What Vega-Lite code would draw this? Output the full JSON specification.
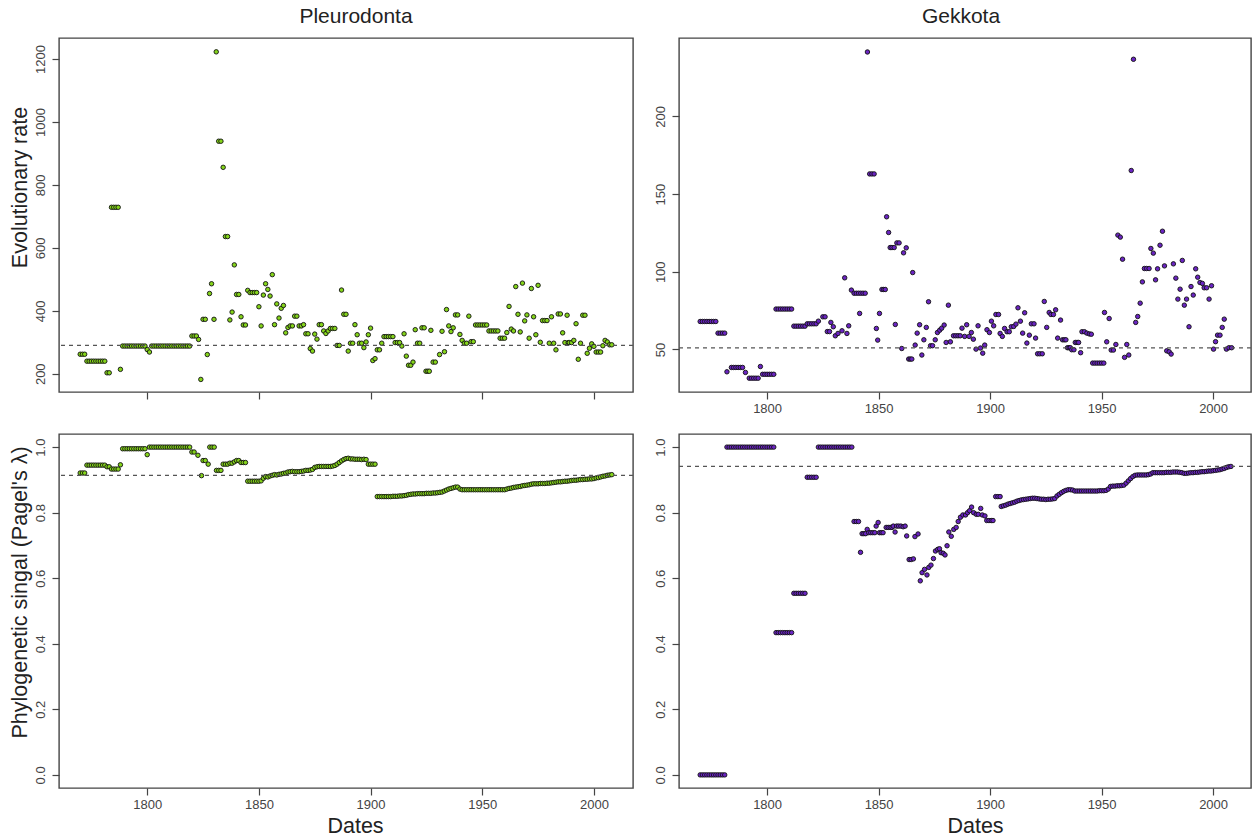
{
"$schema": "https://vega.github.io/schema/vega-lite/v6.json",
"background": "white",
"padding": {"left": 8, "top": 5, "right": 0, "bottom": 0},
"config": {
  "font": "Liberation Sans",
  "view": {"stroke": "#444", "strokeWidth": 1.4},
  "axis": {"domain": false, "grid": false, "ticks": true, "tickColor": "#444", "tickSize": 7, "tickWidth": 1.2,
           "labelFont": "Liberation Sans", "labelFontSize": 13, "labelColor": "#444",
           "titleFont": "Liberation Sans", "titleFontSize": 21.5, "titleFontWeight": "normal", "titleColor": "#222"},
  "title": {"font": "Liberation Sans", "fontSize": 21, "fontWeight": "normal", "color": "#222", "baseline": "alphabetic", "offset": 11}
},
"datasets": {
 "rateP": [
  {"year":1770,"v":262},{"year":1771,"v":262},{"year":1772,"v":262},
  {"year":1773,"v":240},{"year":1774,"v":240},{"year":1775,"v":240},{"year":1776,"v":240},{"year":1777,"v":240},{"year":1778,"v":240},{"year":1779,"v":240},{"year":1780,"v":240},{"year":1781,"v":240},
  {"year":1782,"v":203},{"year":1783,"v":203},
  {"year":1784,"v":729},{"year":1785,"v":729},{"year":1786,"v":729},{"year":1787,"v":729},
  {"year":1788,"v":214},
  {"year":1789,"v":288},{"year":1790,"v":288},{"year":1791,"v":288},{"year":1792,"v":288},{"year":1793,"v":288},{"year":1794,"v":288},{"year":1795,"v":288},{"year":1796,"v":288},{"year":1797,"v":288},{"year":1798,"v":288},{"year":1799,"v":288},
  {"year":1800,"v":277},{"year":1801,"v":269},
  {"year":1802,"v":288},{"year":1803,"v":288},{"year":1804,"v":288},{"year":1805,"v":288},{"year":1806,"v":288},{"year":1807,"v":288},{"year":1808,"v":288},{"year":1809,"v":288},{"year":1810,"v":288},{"year":1811,"v":288},{"year":1812,"v":288},{"year":1813,"v":288},{"year":1814,"v":288},{"year":1815,"v":288},{"year":1816,"v":288},{"year":1817,"v":288},{"year":1818,"v":288},{"year":1819,"v":288},
  {"year":1820,"v":320},{"year":1821,"v":320},{"year":1822,"v":320},{"year":1823,"v":309},{"year":1824,"v":182},
  {"year":1825,"v":373},{"year":1826,"v":373},{"year":1826.9,"v":261},{"year":1827.9,"v":455},{"year":1828.8,"v":486},{"year":1829.9,"v":373},{"year":1830.9,"v":1223},
  {"year":1832,"v":939},{"year":1833,"v":939},{"year":1834,"v":856},{"year":1835,"v":636},{"year":1836,"v":636},{"year":1837,"v":371},{"year":1838,"v":396},{"year":1839,"v":546},
  {"year":1840,"v":452},{"year":1841,"v":452},{"year":1842,"v":381},{"year":1843,"v":355},{"year":1844,"v":355},{"year":1845,"v":465},
  {"year":1846,"v":458},{"year":1847,"v":458},{"year":1848,"v":458},{"year":1849,"v":458},
  {"year":1850,"v":413},{"year":1851,"v":352},{"year":1852,"v":450},{"year":1853,"v":486},{"year":1854,"v":468},{"year":1855,"v":447},{"year":1856,"v":515},{"year":1857,"v":356},{"year":1858,"v":422},{"year":1859,"v":377},
  {"year":1860,"v":408},{"year":1861,"v":417},{"year":1862,"v":330},{"year":1863,"v":347},{"year":1864,"v":352},{"year":1865,"v":352},{"year":1866,"v":383},{"year":1867,"v":383},{"year":1868,"v":352},{"year":1869,"v":352},
  {"year":1870,"v":356},{"year":1871,"v":327},{"year":1872,"v":327},{"year":1873,"v":280},{"year":1874,"v":272},{"year":1875,"v":326},{"year":1876,"v":310},{"year":1877,"v":356},{"year":1878,"v":356},{"year":1879,"v":336},
  {"year":1880,"v":328},{"year":1881,"v":336},{"year":1882,"v":344},{"year":1883,"v":344},{"year":1884,"v":344},{"year":1885,"v":290},{"year":1886,"v":290},{"year":1887,"v":466},{"year":1888,"v":389},{"year":1889,"v":389},
  {"year":1890,"v":272},{"year":1891,"v":297},{"year":1892,"v":297},{"year":1893,"v":356},{"year":1894,"v":324},{"year":1895,"v":297},{"year":1896,"v":297},{"year":1897,"v":283},{"year":1898,"v":301},{"year":1899,"v":324},
  {"year":1900,"v":345},{"year":1901,"v":242},{"year":1902,"v":248},{"year":1903,"v":276},{"year":1904,"v":276},{"year":1905,"v":297},{"year":1906,"v":318},{"year":1907,"v":318},{"year":1908,"v":318},{"year":1909,"v":318},
  {"year":1910,"v":318},{"year":1911,"v":299},{"year":1912,"v":299},{"year":1913,"v":299},{"year":1914,"v":288},{"year":1915,"v":327},{"year":1916,"v":256},{"year":1917,"v":227},{"year":1918,"v":227},{"year":1919,"v":237},
  {"year":1920,"v":340},{"year":1921,"v":297},{"year":1922,"v":297},{"year":1923,"v":346},{"year":1924,"v":346},{"year":1924.8,"v":208},{"year":1925.6,"v":208},{"year":1926.3,"v":208},{"year":1927,"v":338},{"year":1928,"v":237},{"year":1929,"v":237},
  {"year":1930.9,"v":261},{"year":1932,"v":335},{"year":1933.1,"v":270},{"year":1934,"v":404},{"year":1935,"v":352},{"year":1936,"v":334},{"year":1937,"v":346},{"year":1938,"v":387},{"year":1939,"v":387},
  {"year":1940,"v":325},{"year":1941,"v":306},{"year":1942,"v":297},{"year":1943,"v":297},{"year":1944,"v":383},{"year":1945,"v":302},{"year":1946,"v":302},{"year":1947,"v":355},{"year":1948,"v":355},{"year":1949,"v":355},
  {"year":1950,"v":355},{"year":1951,"v":355},{"year":1952,"v":355},{"year":1953,"v":336},{"year":1954,"v":336},{"year":1955,"v":336},{"year":1956,"v":336},{"year":1957,"v":336},{"year":1958,"v":313},{"year":1959,"v":313},
  {"year":1960,"v":313},{"year":1961,"v":331},{"year":1962,"v":414},{"year":1963,"v":342},{"year":1964,"v":336},{"year":1965,"v":477},{"year":1966,"v":389},{"year":1967,"v":333},{"year":1968,"v":488},{"year":1969,"v":368},
  {"year":1970,"v":387},{"year":1971,"v":313},{"year":1972,"v":471},{"year":1973,"v":381},{"year":1974,"v":324},{"year":1975,"v":481},{"year":1976,"v":300},{"year":1977,"v":369},{"year":1978,"v":369},{"year":1979,"v":369},
  {"year":1980,"v":297},{"year":1981,"v":381},{"year":1982,"v":297},{"year":1983,"v":276},{"year":1984,"v":390},{"year":1985,"v":390},{"year":1986,"v":330},{"year":1987,"v":299},{"year":1988,"v":386},{"year":1988.5,"v":299},{"year":1989,"v":299},
  {"year":1990,"v":299},{"year":1991,"v":306},{"year":1992,"v":359},{"year":1993,"v":246},{"year":1994,"v":297},{"year":1995,"v":386},{"year":1996,"v":386},{"year":1997,"v":265},{"year":1998,"v":281},{"year":1999,"v":295},
  {"year":2000,"v":287},{"year":2001,"v":269},{"year":2002,"v":269},{"year":2003,"v":269},{"year":2004,"v":289},{"year":2005,"v":306},{"year":2006,"v":301},{"year":2007,"v":292},{"year":2008,"v":292}
 ],
 "rateG": [
  {"year":1770,"v":68},{"year":1771,"v":68},{"year":1772,"v":68},{"year":1773,"v":68},{"year":1774,"v":68},{"year":1775,"v":68},{"year":1776,"v":68},{"year":1777,"v":68},
  {"year":1778,"v":60.5},{"year":1779,"v":60.5},{"year":1780,"v":60.5},{"year":1781,"v":60.5},{"year":1782,"v":35.6},
  {"year":1784,"v":38.4},{"year":1785,"v":38.4},{"year":1786,"v":38.4},{"year":1787,"v":38.4},{"year":1788,"v":38.4},{"year":1789,"v":38.4},{"year":1790.3,"v":35.2},
  {"year":1792,"v":31.5},{"year":1793,"v":31.5},{"year":1794,"v":31.5},{"year":1795,"v":31.5},{"year":1796,"v":31.5},{"year":1797,"v":39},
  {"year":1798,"v":34},{"year":1799,"v":34},{"year":1800,"v":34},{"year":1801,"v":34},{"year":1802,"v":34},{"year":1803,"v":34},
  {"year":1804,"v":76},{"year":1805,"v":76},{"year":1806,"v":76},{"year":1807,"v":76},{"year":1808,"v":76},{"year":1809,"v":76},{"year":1810,"v":76},{"year":1811,"v":76},
  {"year":1812,"v":65},{"year":1813,"v":65},{"year":1814,"v":65},{"year":1815,"v":65},{"year":1816,"v":65},{"year":1817,"v":65},
  {"year":1818,"v":66.5},{"year":1819,"v":66.5},{"year":1820,"v":66.5},{"year":1821,"v":66.5},{"year":1822,"v":66.5},{"year":1823,"v":68.2},
  {"year":1825,"v":71},{"year":1826,"v":71},{"year":1827,"v":61.5},{"year":1828,"v":61.5},{"year":1828.6,"v":67.4},{"year":1829.7,"v":64.6},{"year":1830.6,"v":58.8},{"year":1831.8,"v":60.3},{"year":1833.6,"v":62},
  {"year":1834.8,"v":96.1},{"year":1835.8,"v":60.3},{"year":1836.6,"v":65.2},{"year":1837.8,"v":88.2},
  {"year":1839,"v":86.2},{"year":1840,"v":86.2},{"year":1841,"v":86.2},{"year":1842,"v":86.2},{"year":1843,"v":86.2},{"year":1844,"v":86.2},{"year":1841.5,"v":73.2},
  {"year":1845,"v":241.5},{"year":1846,"v":163},{"year":1847,"v":163},{"year":1848,"v":163},{"year":1849,"v":63.5},{"year":1849.6,"v":56},{"year":1850.4,"v":73.2},
  {"year":1851.5,"v":88.6},{"year":1852.3,"v":88.6},{"year":1853,"v":88.6},{"year":1853.6,"v":135.4},{"year":1854.5,"v":125.3},{"year":1855.2,"v":115.6},{"year":1856,"v":115.6},{"year":1857,"v":115.6},{"year":1857.5,"v":66.1},
  {"year":1858.2,"v":118.6},{"year":1859.2,"v":118.6},{"year":1860.4,"v":50.6},{"year":1861.2,"v":112.2},{"year":1862.4,"v":115.4},{"year":1863.5,"v":43.8},{"year":1864.2,"v":43.8},{"year":1864.9,"v":43.8},
  {"year":1865.3,"v":99.5},{"year":1866.4,"v":52.8},{"year":1867.3,"v":60.5},{"year":1868.4,"v":65.9},{"year":1869.4,"v":46.4},{"year":1870.3,"v":56.2},{"year":1871.4,"v":64.2},{"year":1872.4,"v":80.7},
  {"year":1873.3,"v":52.4},{"year":1874.2,"v":52.4},{"year":1875.4,"v":56.2},{"year":1876.4,"v":60.9},{"year":1877.4,"v":62.4},{"year":1878.3,"v":63.7},{"year":1879.4,"v":65.7},{"year":1880.3,"v":54.5},
  {"year":1881.3,"v":78.5},{"year":1882.2,"v":54.9},{"year":1883.6,"v":58.8},{"year":1884.6,"v":58.8},{"year":1885.6,"v":58.8},{"year":1886.6,"v":58.8},{"year":1887.4,"v":63.7},{"year":1888.6,"v":58.4},
  {"year":1889.5,"v":65.9},{"year":1890.6,"v":58.4},{"year":1891.6,"v":60.9},{"year":1892.5,"v":56.6},{"year":1893.7,"v":50.2},{"year":1894.6,"v":65.2},{"year":1895.7,"v":50.9},{"year":1896.7,"v":47.6},
  {"year":1897.6,"v":52.8},{"year":1898.6,"v":62.7},{"year":1899.7,"v":60.9},{"year":1900.6,"v":68.2},{"year":1901.6,"v":65.2},{"year":1902.6,"v":72.5},{"year":1903.8,"v":72.5},{"year":1904.5,"v":60.3},
  {"year":1905.5,"v":58.4},{"year":1906.5,"v":63.5},{"year":1907.6,"v":61.4},{"year":1908.6,"v":61.4},{"year":1909.5,"v":64.6},{"year":1910.6,"v":64.8},{"year":1911.6,"v":66.3},{"year":1912.5,"v":76.8},
  {"year":1913.6,"v":68.2},{"year":1914.6,"v":60.5},{"year":1915.5,"v":73.6},{"year":1916.5,"v":54.1},{"year":1917.6,"v":59.2},{"year":1918.5,"v":66.5},{"year":1919.7,"v":66.5},{"year":1920.4,"v":57.3},
  {"year":1921.3,"v":47.2},{"year":1922.3,"v":47.2},{"year":1923.4,"v":47.2},{"year":1924.3,"v":80.9},{"year":1925.4,"v":64.2},{"year":1926.5,"v":73.8},{"year":1927.3,"v":72.5},{"year":1928.4,"v":72.5},
  {"year":1929.4,"v":75.5},{"year":1930.3,"v":57.3},{"year":1931.6,"v":68.9},{"year":1932.5,"v":56.2},{"year":1933.3,"v":56.2},{"year":1934,"v":56.2},{"year":1934.7,"v":51.1},{"year":1935.4,"v":51.1},{"year":1936,"v":51.1},
  {"year":1936.6,"v":49.8},{"year":1937.6,"v":49.8},{"year":1938.2,"v":54.5},{"year":1939,"v":54.5},{"year":1939.7,"v":54.5},{"year":1940.6,"v":47.9},{"year":1941.2,"v":61.4},{"year":1942.3,"v":61.4},
  {"year":1943.4,"v":60.5},{"year":1944.5,"v":60},{"year":1945.4,"v":59.8},{"year":1946,"v":41.2},{"year":1947,"v":41.2},{"year":1948,"v":41.2},{"year":1949,"v":41.2},{"year":1950,"v":41.2},{"year":1951,"v":41.2},
  {"year":1951.3,"v":73.8},{"year":1952.3,"v":54.9},{"year":1953.4,"v":69.9},{"year":1954.3,"v":49.6},{"year":1955.3,"v":49.6},{"year":1956.4,"v":53.2},{"year":1957.3,"v":123.6},{"year":1958.4,"v":122.3},
  {"year":1959.4,"v":108.1},{"year":1960.3,"v":44.9},{"year":1961.3,"v":53.2},{"year":1962.2,"v":46.4},{"year":1963.3,"v":165.2},{"year":1964.3,"v":236.8},{"year":1965.3,"v":67.4},{"year":1966.2,"v":71.2},
  {"year":1967.3,"v":79.8},{"year":1968.3,"v":93.5},{"year":1969.2,"v":102.1},{"year":1970.2,"v":102.1},{"year":1971.3,"v":102.1},{"year":1972.1,"v":115},{"year":1973.2,"v":112},{"year":1974.2,"v":94.8},
  {"year":1975.1,"v":101.9},{"year":1976.2,"v":117.1},{"year":1977.3,"v":126.1},{"year":1978.2,"v":103.8},{"year":1979.2,"v":49.1},{"year":1980.3,"v":48.5},{"year":1981.2,"v":47},{"year":1982.2,"v":105.1},
  {"year":1983.3,"v":95.9},{"year":1984.2,"v":82.4},{"year":1985.2,"v":88.8},{"year":1986.2,"v":107.3},{"year":1987.1,"v":78.5},{"year":1988.1,"v":82.4},{"year":1989.2,"v":64.6},{"year":1990.1,"v":90.5},
  {"year":1991.1,"v":85},{"year":1992.2,"v":101.9},{"year":1993.1,"v":96.5},{"year":1994.1,"v":93.1},{"year":1995.2,"v":92.5},{"year":1996,"v":89.7},{"year":1997.1,"v":89.7},{"year":1998.2,"v":82.4},
  {"year":1999.3,"v":91},{"year":2000.2,"v":50.2},{"year":2001.1,"v":55},{"year":2002,"v":59.2},{"year":2003.1,"v":59.2},{"year":2004.1,"v":64.2},{"year":2005,"v":69.5},{"year":2006,"v":50.2},{"year":2007.1,"v":51.1},{"year":2008.3,"v":51.1}
 ],
 "lamP": [
  {"year":1770,"v":0.921},{"year":1771,"v":0.921},{"year":1772,"v":0.921},
  {"year":1773,"v":0.945},{"year":1774,"v":0.945},{"year":1775,"v":0.945},{"year":1776,"v":0.945},{"year":1777,"v":0.945},{"year":1778,"v":0.945},{"year":1779,"v":0.945},{"year":1780,"v":0.945},{"year":1781,"v":0.945},
  {"year":1782,"v":0.94},{"year":1783,"v":0.94},{"year":1784,"v":0.933},{"year":1785,"v":0.933},{"year":1786,"v":0.933},{"year":1787,"v":0.933},{"year":1788,"v":0.946},
  {"year":1789,"v":0.995},{"year":1790,"v":0.995},{"year":1791,"v":0.995},{"year":1792,"v":0.995},{"year":1793,"v":0.995},{"year":1794,"v":0.995},{"year":1795,"v":0.995},{"year":1796,"v":0.995},{"year":1797,"v":0.995},{"year":1798,"v":0.995},{"year":1799,"v":0.995},
  {"year":1800,"v":0.977},
  {"year":1801,"v":1.0},{"year":1802,"v":1.0},{"year":1803,"v":1.0},{"year":1804,"v":1.0},{"year":1805,"v":1.0},{"year":1806,"v":1.0},{"year":1807,"v":1.0},{"year":1808,"v":1.0},{"year":1809,"v":1.0},{"year":1810,"v":1.0},{"year":1811,"v":1.0},{"year":1812,"v":1.0},{"year":1813,"v":1.0},{"year":1814,"v":1.0},{"year":1815,"v":1.0},{"year":1816,"v":1.0},{"year":1817,"v":1.0},{"year":1818,"v":1.0},{"year":1819,"v":1.0},
  {"year":1820,"v":0.985},{"year":1821,"v":0.985},{"year":1822.7,"v":0.975},{"year":1824.3,"v":0.913},{"year":1825,"v":0.959},{"year":1826,"v":0.959},{"year":1827.3,"v":0.948},
  {"year":1828,"v":1.0},{"year":1829,"v":1.0},{"year":1830,"v":1.0},{"year":1831,"v":0.929},{"year":1832,"v":0.929},{"year":1833,"v":0.929},
  {"year":1834,"v":0.948},{"year":1835,"v":0.948},{"year":1836,"v":0.948},{"year":1837,"v":0.951},{"year":1838,"v":0.951},{"year":1839,"v":0.955},{"year":1840,"v":0.959},{"year":1841,"v":0.959},
  {"year":1842,"v":0.953},{"year":1843,"v":0.953},{"year":1844,"v":0.953},
  {"year":1845,"v":0.896},{"year":1846,"v":0.896},{"year":1847,"v":0.896},{"year":1848,"v":0.896},{"year":1849,"v":0.896},{"year":1850,"v":0.896},{"year":1851,"v":0.897},
  {"year":1852,"v":0.905},{"year":1853,"v":0.91},{"year":1854,"v":0.909},{"year":1855,"v":0.912},{"year":1856,"v":0.914},{"year":1857,"v":0.916},{"year":1858,"v":0.915},{"year":1859,"v":0.917},{"year":1860,"v":0.918},{"year":1861,"v":0.92},{"year":1862,"v":0.921},
  {"year":1863,"v":0.924},{"year":1864,"v":0.925},{"year":1865,"v":0.926},{"year":1866,"v":0.925},{"year":1867,"v":0.925},{"year":1868,"v":0.925},{"year":1869,"v":0.926},{"year":1870,"v":0.927},
  {"year":1871,"v":0.929},{"year":1872,"v":0.929},{"year":1873,"v":0.93},{"year":1874,"v":0.932},
  {"year":1875,"v":0.938},{"year":1876,"v":0.94},{"year":1877,"v":0.941},{"year":1878,"v":0.941},{"year":1879,"v":0.941},{"year":1880,"v":0.941},{"year":1881,"v":0.941},{"year":1882,"v":0.941},{"year":1883,"v":0.942},{"year":1884,"v":0.944},
  {"year":1885,"v":0.948},{"year":1886,"v":0.953},{"year":1887,"v":0.958},{"year":1888,"v":0.962},{"year":1889,"v":0.965},{"year":1890,"v":0.966},{"year":1891,"v":0.964},{"year":1892,"v":0.964},{"year":1893,"v":0.963},{"year":1894,"v":0.963},{"year":1895,"v":0.963},{"year":1896,"v":0.962},{"year":1897,"v":0.963},{"year":1898,"v":0.962},
  {"year":1899,"v":0.948},{"year":1900,"v":0.948},{"year":1901,"v":0.948},{"year":1902,"v":0.948},
  {"year":1903,"v":0.849},{"year":1904,"v":0.849},{"year":1905,"v":0.849},{"year":1906,"v":0.849},{"year":1907,"v":0.849},{"year":1908,"v":0.849},{"year":1909,"v":0.849},{"year":1910,"v":0.85},{"year":1911,"v":0.85},{"year":1912,"v":0.85},{"year":1913,"v":0.851},{"year":1914,"v":0.851},{"year":1915,"v":0.852},{"year":1916,"v":0.853},
  {"year":1917,"v":0.855},{"year":1918,"v":0.856},{"year":1919,"v":0.857},{"year":1920,"v":0.857},{"year":1921,"v":0.858},{"year":1922,"v":0.858},{"year":1923,"v":0.858},{"year":1924,"v":0.858},{"year":1925,"v":0.859},{"year":1926,"v":0.859},{"year":1927,"v":0.859},{"year":1928,"v":0.86},{"year":1929,"v":0.86},{"year":1930,"v":0.861},{"year":1931,"v":0.862},
  {"year":1932,"v":0.863},{"year":1933,"v":0.866},{"year":1934,"v":0.869},{"year":1935,"v":0.872},{"year":1936,"v":0.874},{"year":1937,"v":0.876},{"year":1938,"v":0.878},{"year":1939,"v":0.878},{"year":1940,"v":0.872},
  {"year":1941,"v":0.87},{"year":1942,"v":0.87},{"year":1943,"v":0.87},{"year":1944,"v":0.87},{"year":1945,"v":0.87},{"year":1946,"v":0.87},{"year":1947,"v":0.87},{"year":1948,"v":0.87},{"year":1949,"v":0.87},{"year":1950,"v":0.87},
  {"year":1951,"v":0.87},{"year":1952,"v":0.87},{"year":1953,"v":0.87},{"year":1954,"v":0.87},{"year":1955,"v":0.87},{"year":1956,"v":0.87},{"year":1957,"v":0.87},{"year":1958,"v":0.87},{"year":1959,"v":0.87},{"year":1960,"v":0.87},
  {"year":1961,"v":0.872},{"year":1962,"v":0.874},{"year":1963,"v":0.875},{"year":1964,"v":0.877},{"year":1965,"v":0.878},{"year":1966,"v":0.879},{"year":1967,"v":0.88},{"year":1968,"v":0.882},{"year":1969,"v":0.883},{"year":1970,"v":0.884},{"year":1971,"v":0.885},
  {"year":1972,"v":0.887},{"year":1973,"v":0.888},{"year":1974,"v":0.888},{"year":1975,"v":0.888},{"year":1976,"v":0.889},{"year":1977,"v":0.889},{"year":1978,"v":0.889},{"year":1979,"v":0.89},{"year":1980,"v":0.89},{"year":1981,"v":0.891},
  {"year":1982,"v":0.892},{"year":1983,"v":0.893},{"year":1984,"v":0.894},{"year":1985,"v":0.894},{"year":1986,"v":0.895},{"year":1987,"v":0.896},{"year":1988,"v":0.896},{"year":1989,"v":0.897},{"year":1990,"v":0.898},
  {"year":1991,"v":0.899},{"year":1992,"v":0.899},{"year":1993,"v":0.9},{"year":1994,"v":0.901},{"year":1995,"v":0.901},{"year":1996,"v":0.902},{"year":1997,"v":0.902},{"year":1998,"v":0.903},{"year":1999,"v":0.903},
  {"year":2000,"v":0.904},{"year":2001,"v":0.906},{"year":2002,"v":0.907},{"year":2003,"v":0.909},{"year":2004,"v":0.911},{"year":2005,"v":0.912},{"year":2006,"v":0.914},{"year":2007,"v":0.915},{"year":2008,"v":0.916}
 ],
 "lamG": [
  {"year":1770,"v":0},{"year":1771,"v":0},{"year":1772,"v":0},{"year":1773,"v":0},{"year":1774,"v":0},{"year":1775,"v":0},{"year":1776,"v":0},{"year":1777,"v":0},{"year":1778,"v":0},{"year":1779,"v":0},{"year":1780,"v":0},{"year":1781,"v":0},
  {"year":1782,"v":1},{"year":1783,"v":1},{"year":1784,"v":1},{"year":1785,"v":1},{"year":1786,"v":1},{"year":1787,"v":1},{"year":1788,"v":1},{"year":1789,"v":1},{"year":1790,"v":1},{"year":1791,"v":1},{"year":1792,"v":1},
  {"year":1793,"v":1},{"year":1794,"v":1},{"year":1795,"v":1},{"year":1796,"v":1},{"year":1797,"v":1},{"year":1798,"v":1},{"year":1799,"v":1},{"year":1800,"v":1},{"year":1801,"v":1},{"year":1802,"v":1},{"year":1803,"v":1},
  {"year":1804,"v":0.434},{"year":1805,"v":0.434},{"year":1806,"v":0.434},{"year":1807,"v":0.434},{"year":1808,"v":0.434},{"year":1809,"v":0.434},{"year":1810,"v":0.434},{"year":1811,"v":0.434},
  {"year":1812,"v":0.554},{"year":1813,"v":0.554},{"year":1814,"v":0.554},{"year":1815,"v":0.554},{"year":1816,"v":0.554},{"year":1817,"v":0.554},
  {"year":1818,"v":0.908},{"year":1819,"v":0.908},{"year":1820,"v":0.908},{"year":1821,"v":0.908},{"year":1822,"v":0.908},
  {"year":1823,"v":1},{"year":1824,"v":1},{"year":1825,"v":1},{"year":1826,"v":1},{"year":1827,"v":1},{"year":1828,"v":1},{"year":1829,"v":1},{"year":1830,"v":1},{"year":1831,"v":1},{"year":1832,"v":1},{"year":1833,"v":1},{"year":1834,"v":1},{"year":1835,"v":1},{"year":1836,"v":1},{"year":1837,"v":1},{"year":1838,"v":1},
  {"year":1839,"v":0.773},{"year":1840,"v":0.773},{"year":1841,"v":0.773},{"year":1841.9,"v":0.679},{"year":1842.6,"v":0.736},{"year":1843.4,"v":0.736},{"year":1844.2,"v":0.736},{"year":1844.9,"v":0.749},
  {"year":1845.6,"v":0.739},{"year":1846.5,"v":0.739},{"year":1847.4,"v":0.739},{"year":1848.3,"v":0.739},{"year":1848.9,"v":0.759},{"year":1849.8,"v":0.77},{"year":1850.4,"v":0.739},{"year":1851.2,"v":0.739},{"year":1852,"v":0.739},
  {"year":1853.4,"v":0.755},{"year":1854.3,"v":0.755},{"year":1855.2,"v":0.755},{"year":1856,"v":0.755},{"year":1856.6,"v":0.759},{"year":1857.4,"v":0.741},{"year":1858.1,"v":0.759},{"year":1859,"v":0.759},{"year":1860,"v":0.759},{"year":1861,"v":0.757},{"year":1861.9,"v":0.759},
  {"year":1862.6,"v":0.729},{"year":1863.7,"v":0.657},{"year":1864.6,"v":0.657},{"year":1865.6,"v":0.659},{"year":1866.3,"v":0.727},{"year":1867.7,"v":0.735},{"year":1868.7,"v":0.592},{"year":1869.5,"v":0.617},
  {"year":1870.6,"v":0.627},{"year":1871.7,"v":0.61},{"year":1872.5,"v":0.633},{"year":1873.5,"v":0.64},{"year":1874.6,"v":0.66},{"year":1875.5,"v":0.683},{"year":1876.5,"v":0.688},{"year":1877.3,"v":0.69},{"year":1878,"v":0.678},
  {"year":1879,"v":0.676},{"year":1879.8,"v":0.671},{"year":1880.7,"v":0.699},{"year":1881.5,"v":0.741},{"year":1882.6,"v":0.728},{"year":1883.7,"v":0.749},{"year":1884.8,"v":0.755},{"year":1885.7,"v":0.773},
  {"year":1886.7,"v":0.786},{"year":1887.8,"v":0.793},{"year":1889,"v":0.793},{"year":1889.9,"v":0.8},{"year":1890.8,"v":0.806},{"year":1891.7,"v":0.817},{"year":1892.6,"v":0.8},{"year":1893.8,"v":0.795},
  {"year":1894.7,"v":0.795},{"year":1895.8,"v":0.813},{"year":1896.5,"v":0.793},{"year":1897.7,"v":0.79},{"year":1898.5,"v":0.776},{"year":1899.5,"v":0.776},{"year":1900.5,"v":0.776},{"year":1901.3,"v":0.776},
  {"year":1902.5,"v":0.849},{"year":1903.5,"v":0.849},{"year":1904.5,"v":0.849},
  {"year":1905,"v":0.819},{"year":1906,"v":0.821},{"year":1907,"v":0.823},{"year":1908,"v":0.826},{"year":1909,"v":0.828},{"year":1910,"v":0.83},{"year":1911,"v":0.832},{"year":1912,"v":0.835},{"year":1913,"v":0.837},
  {"year":1914,"v":0.839},{"year":1915,"v":0.84},{"year":1916,"v":0.841},{"year":1917,"v":0.842},{"year":1918,"v":0.843},{"year":1919,"v":0.844},{"year":1920,"v":0.844},{"year":1921,"v":0.843},{"year":1922,"v":0.842},
  {"year":1923,"v":0.841},{"year":1924,"v":0.841},{"year":1925,"v":0.84},{"year":1926,"v":0.841},{"year":1927,"v":0.841},{"year":1928,"v":0.842},{"year":1929,"v":0.843},
  {"year":1930,"v":0.851},{"year":1931,"v":0.856},{"year":1932,"v":0.861},{"year":1933,"v":0.865},{"year":1934,"v":0.868},{"year":1935,"v":0.87},{"year":1936,"v":0.87},{"year":1937,"v":0.869},
  {"year":1938,"v":0.866},{"year":1939,"v":0.866},{"year":1940,"v":0.866},{"year":1941,"v":0.866},{"year":1942,"v":0.866},{"year":1943,"v":0.866},{"year":1944,"v":0.866},{"year":1945,"v":0.866},{"year":1946,"v":0.866},{"year":1947,"v":0.866},
  {"year":1948,"v":0.866},{"year":1949,"v":0.867},{"year":1950,"v":0.867},{"year":1951,"v":0.867},{"year":1952,"v":0.868},{"year":1953,"v":0.872},
  {"year":1954,"v":0.88},{"year":1955,"v":0.881},{"year":1956,"v":0.881},{"year":1957,"v":0.882},{"year":1958,"v":0.882},{"year":1959,"v":0.883},{"year":1960,"v":0.884},
  {"year":1961,"v":0.89},{"year":1962,"v":0.897},{"year":1963,"v":0.904},{"year":1964,"v":0.91},{"year":1965,"v":0.914},{"year":1966,"v":0.915},{"year":1967,"v":0.915},{"year":1968,"v":0.915},{"year":1969,"v":0.915},{"year":1970,"v":0.915},{"year":1971,"v":0.916},{"year":1972,"v":0.918},
  {"year":1973,"v":0.922},{"year":1974,"v":0.922},{"year":1975,"v":0.922},{"year":1976,"v":0.922},{"year":1977,"v":0.922},{"year":1978,"v":0.922},{"year":1979,"v":0.923},{"year":1980,"v":0.923},{"year":1981,"v":0.923},{"year":1982,"v":0.924},{"year":1983,"v":0.924},{"year":1984,"v":0.924},{"year":1985,"v":0.923},{"year":1986,"v":0.922},
  {"year":1987,"v":0.92},{"year":1988,"v":0.92},{"year":1989,"v":0.921},{"year":1990,"v":0.922},{"year":1991,"v":0.922},{"year":1992,"v":0.923},{"year":1993,"v":0.923},{"year":1994,"v":0.924},{"year":1995,"v":0.925},{"year":1996,"v":0.925},
  {"year":1997,"v":0.926},{"year":1998,"v":0.927},{"year":1999,"v":0.927},{"year":2000,"v":0.928},{"year":2001,"v":0.929},{"year":2002,"v":0.93},
  {"year":2003,"v":0.931},{"year":2004,"v":0.933},{"year":2005,"v":0.935},{"year":2006,"v":0.938},{"year":2007,"v":0.94},{"year":2008,"v":0.941}
 ]
},
"concat": [
 {
  "width": 574, "height": 354,
  "title": {"text": "Pleurodonta", "dx": 10},
  "layer": [
   {"data": {"name": "rateP"},
    "mark": {"type": "circle", "fill": "#84d41a", "stroke": "#111", "strokeWidth": 0.9, "size": 20, "opacity": 1},
    "encoding": {
      "x": {"field": "year", "type": "quantitative", "scale": {"domain": [1760.5, 2017.5], "nice": false, "zero": false},
            "axis": {"values": [1800, 1850, 1900, 1950, 2000], "labels": false, "title": null}},
      "y": {"field": "v", "type": "quantitative", "scale": {"domain": [142, 1267], "nice": false, "zero": false},
            "axis": {"values": [200, 400, 600, 800, 1000, 1200], "format": "d", "labelAngle": 270, "labelAlign": "center", "labelBaseline": "bottom", "labelPadding": 5,
                     "title": "Evolutionary rate", "titleAngle": 270, "titleAlign": "center", "titleBaseline": "alphabetic", "titleX": -33, "titleY": 149}}
    }},
   {"data": {"values": [{"ref": 290}]},
    "mark": {"type": "rule", "strokeDash": [4, 4], "color": "#555", "strokeWidth": 1.2},
    "encoding": {"y": {"field": "ref", "type": "quantitative"}}}
  ]
 },
 {
  "width": 572, "height": 354,
  "title": {"text": "Gekkota", "dx": -4},
  "layer": [
   {"data": {"name": "rateG"},
    "mark": {"type": "circle", "fill": "#6a24c2", "stroke": "#111", "strokeWidth": 0.9, "size": 20, "opacity": 1},
    "encoding": {
      "x": {"field": "year", "type": "quantitative", "scale": {"domain": [1760.5, 2017.0], "nice": false, "zero": false},
            "axis": {"values": [1800, 1850, 1900, 1950, 2000], "format": "d", "labelPadding": 3, "title": null}},
      "y": {"field": "v", "type": "quantitative", "scale": {"domain": [22.6, 250.5], "nice": false, "zero": false},
            "axis": {"values": [50, 100, 150, 200], "format": "d", "labelAngle": 270, "labelAlign": "center", "labelBaseline": "bottom", "labelPadding": 5, "title": null}}
    }},
   {"data": {"values": [{"ref": 51}]},
    "mark": {"type": "rule", "strokeDash": [4, 4], "color": "#555", "strokeWidth": 1.2},
    "encoding": {"y": {"field": "ref", "type": "quantitative"}}}
  ]
 },
 {
  "width": 574, "height": 354,
  "layer": [
   {"data": {"name": "lamP"},
    "mark": {"type": "circle", "fill": "#84d41a", "stroke": "#111", "strokeWidth": 0.9, "size": 20, "opacity": 1},
    "encoding": {
      "x": {"field": "year", "type": "quantitative", "scale": {"domain": [1760.5, 2017.5], "nice": false, "zero": false},
            "axis": {"values": [1800, 1850, 1900, 1950, 2000], "format": "d", "labelPadding": 3,
                     "title": "Dates", "titleX": 296, "titleY": 44, "titleBaseline": "alphabetic", "titleAlign": "center"}},
      "y": {"field": "v", "type": "quantitative", "scale": {"domain": [-0.04, 1.04], "nice": false, "zero": false},
            "axis": {"values": [0, 0.2, 0.4, 0.6, 0.8, 1.0], "format": ".1f", "labelAngle": 270, "labelAlign": "center", "labelBaseline": "bottom", "labelPadding": 5,
                     "title": "Phylogenetic singal (Pagel's λ)", "titleAngle": 270, "titleAlign": "center", "titleBaseline": "alphabetic", "titleX": -33, "titleY": 158}}
    }},
   {"data": {"values": [{"ref": 0.914}]},
    "mark": {"type": "rule", "strokeDash": [4, 4], "color": "#555", "strokeWidth": 1.2},
    "encoding": {"y": {"field": "ref", "type": "quantitative"}}}
  ]
 },
 {
  "width": 572, "height": 354,
  "layer": [
   {"data": {"name": "lamG"},
    "mark": {"type": "circle", "fill": "#6a24c2", "stroke": "#111", "strokeWidth": 0.9, "size": 20, "opacity": 1},
    "encoding": {
      "x": {"field": "year", "type": "quantitative", "scale": {"domain": [1760.5, 2017.0], "nice": false, "zero": false},
            "axis": {"values": [1800, 1850, 1900, 1950, 2000], "format": "d", "labelPadding": 3,
                     "title": "Dates", "titleX": 296, "titleY": 44, "titleBaseline": "alphabetic", "titleAlign": "center"}},
      "y": {"field": "v", "type": "quantitative", "scale": {"domain": [-0.04, 1.04], "nice": false, "zero": false},
            "axis": {"values": [0, 0.2, 0.4, 0.6, 0.8, 1.0], "format": ".1f", "labelAngle": 270, "labelAlign": "center", "labelBaseline": "bottom", "labelPadding": 5, "title": null}}
    }},
   {"data": {"values": [{"ref": 0.941}]},
    "mark": {"type": "rule", "strokeDash": [4, 4], "color": "#555", "strokeWidth": 1.2},
    "encoding": {"y": {"field": "ref", "type": "quantitative"}}}
  ]
 }
],
"columns": 2,
"spacing": {"row": 42, "column": 46},
"bounds": "flush",
"resolve": {"scale": {"x": "independent", "y": "independent"}}
}
